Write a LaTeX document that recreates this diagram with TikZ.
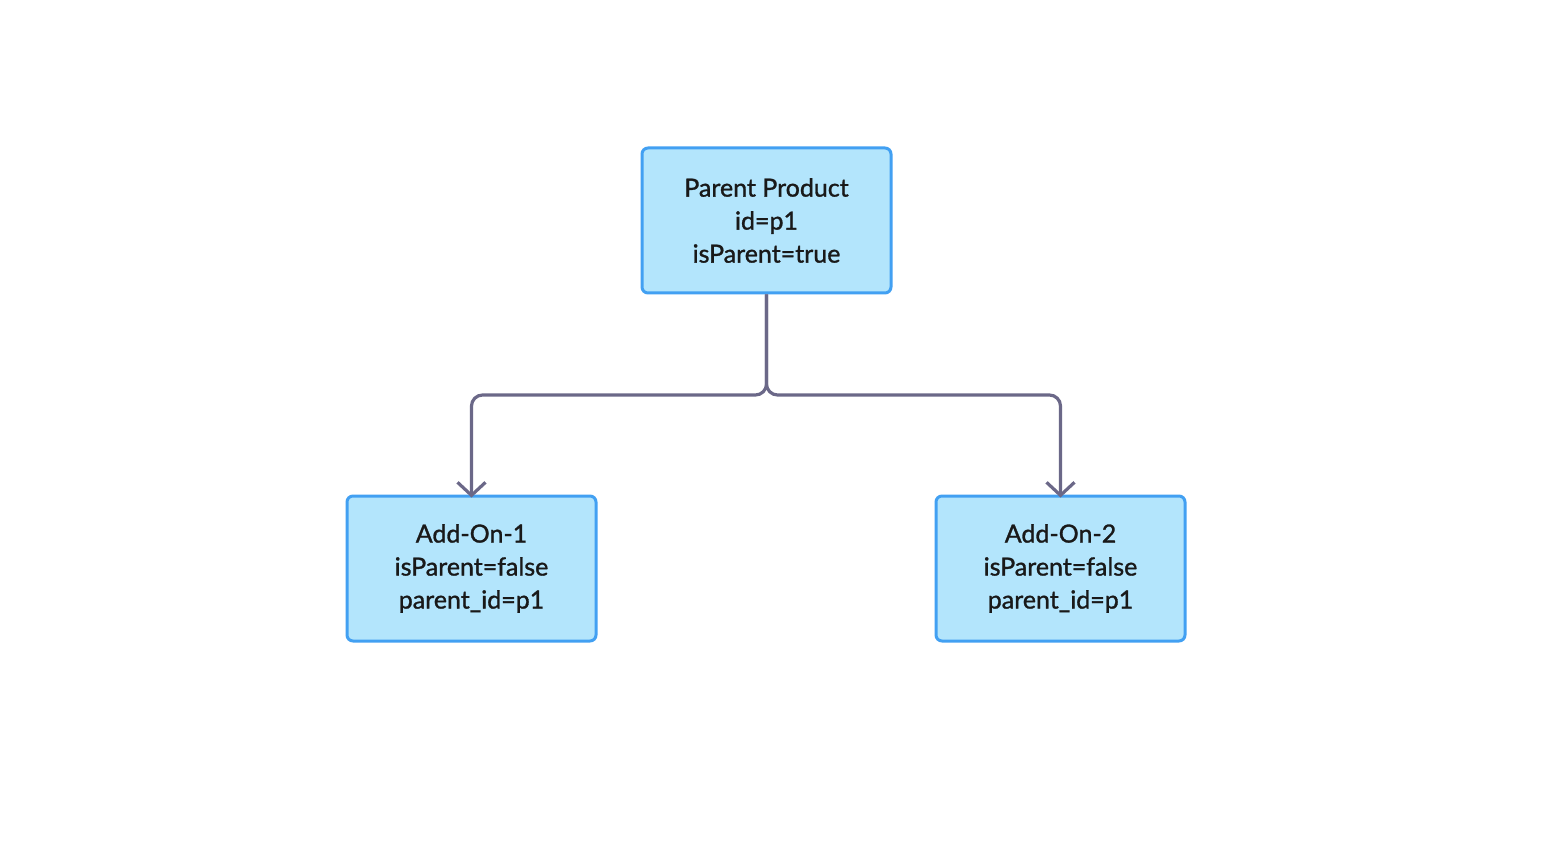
\documentclass[tikz,border=0pt]{standalone}
\usepackage{fontspec}
\setmainfont{Lato}[UprightFeatures={FakeBold=1.2}]
\usepackage{xcolor}
\usepackage{tikz}
\usetikzlibrary{arrows.meta}
\usetikzlibrary{calc}
\definecolor{boxfill}{HTML}{B3E5FC}
\definecolor{boxline}{HTML}{42A0F2}
\definecolor{linkcol}{HTML}{6B6888}

\begin{document}
\begin{tikzpicture}[x=1pt,y=-1pt,
	prodbox/.style={draw=boxline,fill=boxfill,line width=3pt,rounded corners=6pt,
		minimum width=249pt,minimum height=145pt,align=center,
		font=\fontsize{25}{33}\selectfont,text=black!90},
	link/.style={draw=linkcol,line width=3.2pt,rounded corners=11pt,shorten >=-3pt,
		-{Straight Barb[length=13pt,width=28pt,line width=3.2pt]}}]
\useasboundingbox (0,0) rectangle (1556,866);
	\node[prodbox] (P) at (766.5,220.5) {Parent Product\\id=p1\\isParent=true};
	\node[prodbox] (A1) at (471.5,568.5) {Add-On-1\\isParent=false\\parent\_id=p1};
	\node[prodbox] (A2) at (1060.5,568.5) {Add-On-2\\isParent=false\\parent\_id=p1};
	\coordinate (J) at (766.5,395);
	%\draw (P.south) -- (J);
	\draw[link] (P.south) -- (J) -| (A1.north);
	\draw[link] (P.south) -- (J) -| (A2.north);
\end{tikzpicture}
\end{document}
